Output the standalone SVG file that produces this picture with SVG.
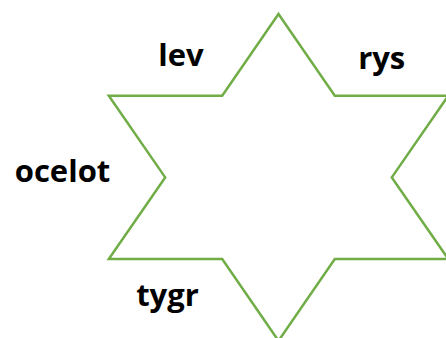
<svg xmlns="http://www.w3.org/2000/svg" width="446" height="338" viewBox="0 0 446 338">
  <style>
    .star { fill: #ffffff; stroke: #70AD47; stroke-width: 2.5; stroke-linejoin: miter; }
    .lbl { font-family: "Open Sans", "Liberation Sans", sans-serif; font-weight: bold; font-size: 31px; fill: #000000; text-anchor: middle; }
  </style>
  <rect width="446" height="338" fill="#ffffff"/>
  <g id="star">
    <polygon class="star" points="278.5,14 334.8,95.8 448.2,95.8 391.8,177.4 448.2,259 334.8,259 278.5,340.8 222.2,259 108.8,259 165.2,177.4 108.8,95.8 222.2,95.8"/>
  </g>
  <g id="label-lev"><text class="lbl" x="181" y="65.5">lev</text></g>
  <g id="label-rys"><text class="lbl" x="381.7" y="68.5">rys</text></g>
  <g id="label-ocelot"><text class="lbl" x="62.5" y="182">ocelot</text></g>
  <g id="label-tygr"><text class="lbl" x="167.5" y="306">tygr</text></g>
</svg>
